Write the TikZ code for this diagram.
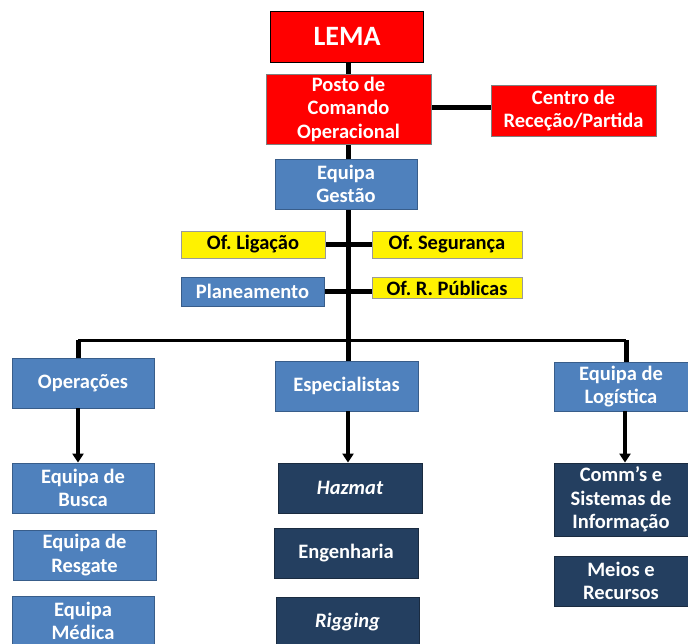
\documentclass[tikz,border=0pt]{standalone}
\usepackage{fontspec}
\setmainfont{Carlito}
\frenchspacing
\usetikzlibrary{arrows.meta,backgrounds}
\definecolor{offblue}{HTML}{4F81BD}
\definecolor{offblueline}{HTML}{385D8A}
\definecolor{navy}{HTML}{243F60}
\definecolor{navyline}{HTML}{1A2B40}
\definecolor{redline}{HTML}{7F7F7F}
\definecolor{yelline}{HTML}{9A9A9A}
\begin{document}
\begin{tikzpicture}[x=1pt,y=-1pt,
  box/.style={draw, line width=0.8pt, inner sep=0pt, align=center,
    font=\bfseries\fontsize{20.5}{23.5}\selectfont},
  redbox/.style={box, fill=red, draw=redline, text=white},
  bluebox/.style={box, fill=offblue, draw=offblueline, text=white},
  navybox/.style={box, fill=navy, draw=navyline, text=white},
  yelbox/.style={box, fill=yellow, draw=yelline, text=black},
  sz/.style 2 args={minimum width=#1pt, minimum height=#2pt},
  thickline/.style={line width=5pt},
  busline/.style={line width=3pt},
  arrowline/.style={line width=3.2pt, -{Triangle[width=11pt,length=9pt]}}
]
\useasboundingbox (0,0) rectangle (688,644);

% top
\node[redbox, sz={153}{51}, draw=black, font=\bfseries\fontsize{28}{30}\selectfont] (lema) at (347,36.5) {LEMA};
\node[redbox, sz={165}{70}] (posto) at (348.5,109) {Posto de\\Comando\\Operacional};
\node[redbox, sz={165}{51}] (centro) at (573.5,110.5) {Centro de\\Receção/Partida};
\node[bluebox, sz={142}{50}] (gestao) at (346,184) {Equipa\\Gestão};

% staff
\node[yelbox, sz={144}{27}] (ligacao) at (253,244.5) {Of. Ligação};
\node[yelbox, sz={150}{27}] (seguranca) at (447,244.5) {Of. Segurança};
\node[bluebox, sz={143}{29}] (planeamento) at (252.5,291.5) {Planeamento};
\node[yelbox, sz={150}{21}] (publicas) at (447,288) {Of. R. Públicas};

% sections
\node[bluebox, sz={142}{50}] (operacoes) at (83,383) {Operações};
\node[bluebox, sz={143}{50}] (especialistas) at (346.5,386) {Especialistas};
\node[bluebox, sz={134}{49}] (logistica) at (621,386.5) {Equipa de\\Logística};

% units
\node[bluebox, sz={142}{50}] (busca) at (83,488) {Equipa de\\Busca};
\node[bluebox, sz={143}{50}] (resgate) at (84.5,555) {Equipa de\\Resgate};
\node[bluebox, sz={142}{50}] (medica) at (83,621) {Equipa\\Médica};
\node[navybox, sz={144}{50}] (hazmat) at (350,488) {\itshape Hazmat};
\node[navybox, sz={144}{50}] (engenharia) at (346,553) {Engenharia};
\node[navybox, sz={143}{50}] (rigging) at (347.5,622) {\itshape Rigging};
\node[navybox, sz={134}{73}] (comms) at (621,499.5) {Comm’s e\\Sistemas de\\Informação};
\node[navybox, sz={134}{50}] (meios) at (621,581) {Meios e\\Recursos};

\coordinate (trunk) at (348,340);

\begin{scope}[on background layer]
  % main trunk
  \draw[thickline] (lema.south -| trunk) -- (especialistas.north -| trunk);
  % side links
  \draw[thickline] (posto.east |- 0,108) -- (centro.west |- 0,108);
  \draw[thickline] (ligacao.east) -- (seguranca.west);
  \draw[thickline] (planeamento.east |- 0,292) -- (publicas.west |- 0,292);
  % bus
  \draw[busline] ([xshift=-5pt]operacoes.north |- trunk) -- ([xshift=5pt]logistica.north |- trunk);
  \draw[thickline] ([xshift=-5pt]operacoes.north |- trunk) -- ([xshift=-5pt]operacoes.north);
  \draw[thickline] ([xshift=5pt]logistica.north |- trunk) -- ([xshift=5pt]logistica.north);
\end{scope}

% arrows
\draw[arrowline] ([xshift=-5pt]operacoes.south) -- ([xshift=-5pt]operacoes.south |- busca.north);
\draw[arrowline] (especialistas.south -| trunk) -- (hazmat.north -| trunk);
\draw[arrowline] ([xshift=4pt]logistica.south) -- ([xshift=4pt]logistica.south |- comms.north);
\end{tikzpicture}
\end{document}
